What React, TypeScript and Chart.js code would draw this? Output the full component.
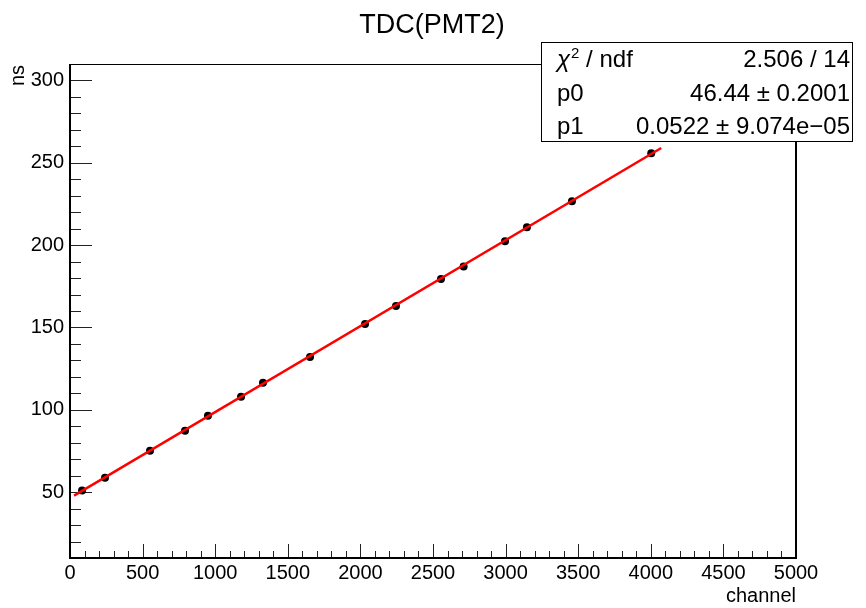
import { useEffect, useRef } from 'react';
import { Chart, registerables } from 'chart.js';

Chart.register(...registerables);

// ---- data ----
const channel = [83, 241, 551, 792, 950, 1178, 1329, 1653, 2032, 2245, 2555, 2711, 2996, 3147, 3457, 4003];
const timeNs = [51.0, 58.8, 75.2, 87.3, 96.4, 107.9, 116.4, 132.1, 152.1, 163.0, 179.4, 187.1, 202.4, 210.9, 226.7, 255.8];
const fitP0 = 46.44;
const fitP1 = 0.0522;
const fitRange = [28, 4072];
const xTickValues = [0, 500, 1000, 1500, 2000, 2500, 3000, 3500, 4000, 4500, 5000];
const yTickValues = [50, 100, 150, 200, 250, 300];
const statsLabels = ['χ', 'p0', 'p1'];
const statsValues = ['2.506 / 14', '46.44 ± 0.2001', '0.0522 ± 9.074e−05'];
const chartTitle = 'TDC(PMT2)';
const xTitle = 'channel';
const yTitle = 'ns';

const FONT = '"Liberation Sans", Arial, Helvetica, sans-serif';

const rootStyle = {
  id: 'rootStyle',
  beforeDatasetsDraw(chart: any) {
    const { ctx, chartArea, scales } = chart;
    const { left, right, top, bottom } = chartArea;
    const x = scales.x;
    const y = scales.y;
    ctx.save();
    // ticks (inside the frame, ROOT style)
    ctx.strokeStyle = '#222';
    ctx.lineWidth = 1;
    ctx.beginPath();
    for (let v = 100; v < 5000; v += 100) {
      const px = Math.round(x.getPixelForValue(v)) + 0.5;
      const len = v % 500 === 0 ? 14 : 7;
      ctx.moveTo(px, bottom);
      ctx.lineTo(px, bottom - len);
    }
    for (let v = 20; v < 310; v += 10) {
      const py = Math.round(y.getPixelForValue(v)) + 0.5;
      const len = v % 50 === 0 ? 22 : 11;
      ctx.moveTo(left, py);
      ctx.lineTo(left + len, py);
    }
    ctx.stroke();
    // frame
    ctx.strokeStyle = '#000';
    ctx.lineWidth = 2;
    ctx.beginPath();
    ctx.moveTo(left, top);
    ctx.lineTo(left, bottom);
    ctx.lineTo(right, bottom);
    ctx.lineTo(right, top);
    ctx.stroke();
    ctx.lineWidth = 1;
    ctx.beginPath();
    ctx.moveTo(left, top + 0.5);
    ctx.lineTo(right, top + 0.5);
    ctx.stroke();
    ctx.restore();
  },
  afterDraw(chart: any) {
    const { ctx, chartArea } = chart;
    ctx.save();
    ctx.fillStyle = '#000';
    // title
    ctx.font = `27px ${FONT}`;
    ctx.textAlign = 'center';
    ctx.textBaseline = 'alphabetic';
    ctx.fillText(chartTitle, 432, 33);
    // x title
    ctx.font = `20px ${FONT}`;
    ctx.textAlign = 'right';
    ctx.fillText(xTitle, chartArea.right, 602);
    // y title
    ctx.save();
    ctx.translate(24, 65);
    ctx.rotate(-Math.PI / 2);
    ctx.textAlign = 'right';
    ctx.textBaseline = 'alphabetic';
    ctx.fillText(yTitle, 0, 0);
    ctx.restore();
    // stats box
    const bx = 541, by = 43, bw = 311, bh = 99;
    ctx.fillStyle = '#fff';
    ctx.fillRect(bx, by, bw, bh);
    ctx.strokeStyle = '#000';
    ctx.lineWidth = 1;
    ctx.strokeRect(bx + 0.5, by - 0.5, bw, bh);
    ctx.fillStyle = '#000';
    const baselines = [67, 100.5, 134];
    ctx.font = `24px ${FONT}`;
    for (let i = 0; i < 3; i++) {
      ctx.textAlign = 'left';
      const lx = 557;
      if (i === 0) {
        ctx.font = `italic 24px ${FONT}`;
        ctx.fillText(statsLabels[0], lx, baselines[0]);
        const w = ctx.measureText(statsLabels[0]).width;
        ctx.font = `15px ${FONT}`;
        ctx.fillText('2', lx + w + 1, baselines[0] - 9);
        const w2 = ctx.measureText('2').width;
        ctx.font = `24px ${FONT}`;
        ctx.fillText(' / ndf', lx + w + 1 + w2, baselines[0]);
      } else {
        ctx.fillText(statsLabels[i], lx, baselines[i]);
      }
      ctx.textAlign = 'right';
      ctx.fillText(statsValues[i], 850, baselines[i]);
    }
    ctx.restore();
  },
};

export default function App() {
  const ref = useRef<HTMLCanvasElement | null>(null);
  useEffect(() => {
    if (!ref.current) return;
    const points = channel.map((c, i) => ({ x: c, y: timeNs[i] }));
    const fitLine = fitRange.map((c) => ({ x: c, y: fitP0 + fitP1 * c }));
    const chart = new Chart(ref.current, {
      type: 'scatter',
      data: {
        datasets: [
          {
            label: 'fit',
            data: fitLine,
            showLine: true,
            borderColor: '#ff0000',
            borderWidth: 2.5,
            pointRadius: 0,
            order: 0,
          },
          {
            label: 'TDC',
            data: points,
            backgroundColor: '#000',
            borderColor: '#000',
            pointRadius: 4,
            pointBorderWidth: 0,
            order: 1,
          },
        ],
      },
      options: {
        responsive: false,
        animation: false,
        events: [],
        layout: { padding: { left: 0, top: 64, right: 70, bottom: 0 } },
        plugins: { legend: { display: false }, tooltip: { enabled: false }, title: { display: false } },
        scales: {
          x: {
            type: 'linear',
            min: 0,
            max: 5000,
            grid: { display: false, drawTicks: false },
            border: { display: false },
            afterBuildTicks: (s: any) => {
              s.ticks = xTickValues.map((v) => ({ value: v }));
            },
            afterFit: (s: any) => {
              s.height = 50;
            },
            ticks: {
              padding: 3,
              maxRotation: 0,
              autoSkip: false,
              color: '#000',
              font: { family: FONT, size: 20 },
              callback: (v: any) => String(v),
            },
          },
          y: {
            type: 'linear',
            min: 10,
            max: 310,
            grid: { display: false, drawTicks: false },
            border: { display: false },
            afterBuildTicks: (s: any) => {
              s.ticks = yTickValues.map((v) => ({ value: v }));
            },
            afterFit: (s: any) => {
              s.width = 70;
            },
            ticks: {
              padding: 6,
              autoSkip: false,
              color: '#000',
              font: { family: FONT, size: 20 },
              callback: (v: any) => String(v),
            },
          },
        },
      },
      plugins: [rootStyle],
    });
    return () => chart.destroy();
  }, []);
  return (
    <div style={{ position: 'fixed', left: 0, top: 0, width: 866, height: 608, background: '#fff' }}>
      <canvas ref={ref} width={866} height={608} />
    </div>
  );
}
